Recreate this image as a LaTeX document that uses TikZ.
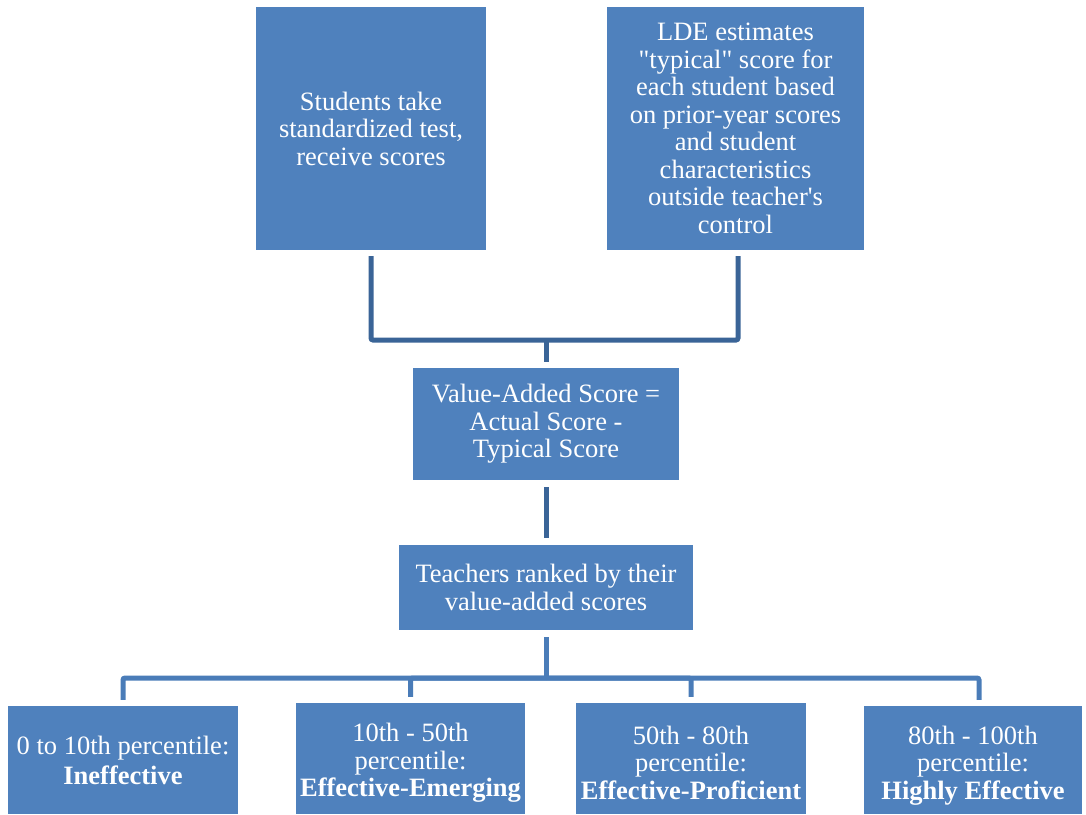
\documentclass[tikz,border=0pt]{standalone}
\usepackage{fontspec}
\newfontfamily\tnr{Liberation Serif}
\definecolor{boxblue}{HTML}{4F81BD}
\definecolor{lineA}{HTML}{3A6497}
\definecolor{lineB}{HTML}{4A7CB8}
\begin{document}
\begin{tikzpicture}[x=1pt,y=-1pt,
  bx/.style={rectangle,fill=boxblue,text=white,inner sep=0pt,align=center,
    font=\tnr\fontsize{26.5}{27.5}\selectfont},
  connA/.style={draw=lineA,line width=5pt,rounded corners=2pt},
  connB/.style={draw=lineB,line width=5pt,rounded corners=2pt}]
\useasboundingbox (0,0) rectangle (1086,814);
\node[bx,minimum width=230pt,minimum height=243pt] (b1) at (371,128.5)
  {Students take\\standardized test,\\receive scores};
\node[bx,minimum width=257pt,minimum height=243pt] (b2) at (735.5,128.5)
  {LDE estimates\\"typical" score for\\each student based\\on prior-year scores\\and student\\characteristics\\outside teacher\textquotesingle s\\control};
\node[bx,minimum width=266pt,minimum height=112pt] (b3) at (546,424)
  {Value-Added Score =\\Actual Score -\\Typical Score};
\node[bx,minimum width=294pt,minimum height=85pt] (b4) at (546,587.5)
  {Teachers ranked by their\\value-added scores};
\node[bx,minimum width=230pt,minimum height=108pt,font=\tnr\fontsize{26.5}{30}\selectfont] (b5) at (123,760)
  {0 to 10th percentile:\\\textbf{Ineffective}};
\node[bx,minimum width=229pt,minimum height=111pt] (b6) at (410.5,758.5)
  {\rule{0pt}{27pt}10th - 50th\\percentile:\\\textbf{Effective-Emerging}};
\node[bx,minimum width=230pt,minimum height=111pt] (b7) at (691,758.5)
  {\rule{0pt}{27pt}50th - 80th\\percentile:\\\textbf{Effective-Proficient}};
\node[bx,minimum width=218pt,minimum height=108pt] (b8) at (973,760)
  {\rule{0pt}{29pt}80th - 100th\\percentile:\\\textbf{Highly Effective}};
\coordinate (j1) at (546,340);
\coordinate (j2) at (546,678);
\draw[connA,shorten <=6pt,shorten >=6pt] (b1.south) |- (j1) -| ([xshift=2.5pt]b2.south);
\draw[connA,shorten >=6pt] (j1) -- (b3.north);
\draw[connA,shorten <=7pt,shorten >=7pt] (b3.south) -- (b4.north);
\draw[connB,shorten <=7pt] (b4.south) -- (j2);
\draw[connB,shorten <=6pt,shorten >=6pt] (b5.north) |- (j2) -| ([xshift=6pt]b8.north);
\draw[connB,shorten >=6pt] (j2) -| (b6.north);
\draw[connB,shorten >=6pt] (j2) -| (b7.north);
\end{tikzpicture}
\end{document}
